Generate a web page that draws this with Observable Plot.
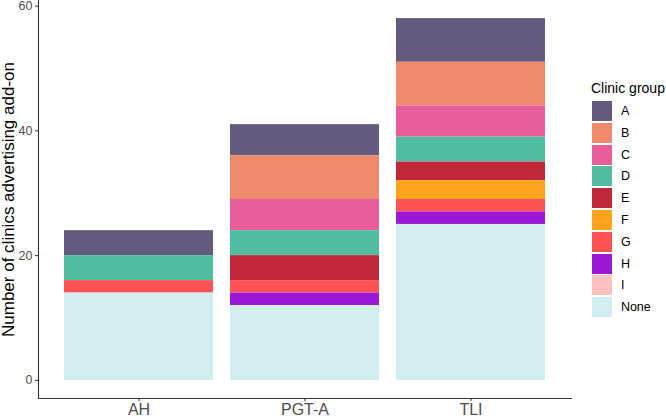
<!DOCTYPE html>
<html><head><meta charset="utf-8">
<script src="https://cdn.jsdelivr.net/npm/d3@7"></script>
<script src="https://cdn.jsdelivr.net/npm/@observablehq/plot@0.6"></script>
<style>
body{margin:0;background:#fff;font-family:"Liberation Sans",Arial,sans-serif;}
#wrap{position:relative;width:666px;height:418px;overflow:hidden;}
#legend{position:absolute;left:591px;top:79px;color:#000;white-space:nowrap;}
#legend .title{font-size:14px;line-height:18px;height:22px;}
#legend .row{display:flex;align-items:flex-start;height:21.8px;margin-left:1px;}
#legend .sw{width:20.4px;height:20px;}
#legend .lab{font-size:12.5px;line-height:20px;margin-left:8.5px;}
</style></head><body>
<div id="wrap"><div id="chart"></div><div id="legend"></div></div>
<script>
const categories = ["AH", "PGT-A", "TLI"];
const groups = ["A", "B", "C", "D", "E", "F", "G", "H", "I", "None"];
const groupColors = ["#645a7d", "#ef896b", "#e85e9a", "#50bca0", "#c02839", "#ffa21c", "#fe5255", "#9b18d6", "#ffc0c2", "#d2eded"];
// counts per category (AH, PGT-A, TLI)
const groupA = [4, 5, 7];
const groupB = [0, 7, 7];
const groupC = [0, 5, 5];
const groupD = [4, 4, 4];
const groupE = [0, 4, 3];
const groupF = [0, 0, 3];
const groupG = [2, 2, 2];
const groupH = [0, 2, 2];
const groupI = [0, 0, 0];
const groupNone = [14, 12, 25];
const yTicks = [0, 20, 40, 60];
const yTitle = "Number of clinics advertising add-on";
const legendTitle = "Clinic group";

const series = [groupA, groupB, groupC, groupD, groupE, groupF, groupG, groupH, groupI, groupNone];
const rows = [];
groups.forEach((g, gi) => categories.forEach((c, ci) => {
  if (series[gi][ci] > 0) rows.push({category: c, group: g, count: series[gi][ci]});
}));

const chart = Plot.plot({
  width: 666, height: 418,
  marginLeft: 38, marginRight: 95, marginTop: 0, marginBottom: 20,
  style: {fontFamily: "'Liberation Sans', Arial, sans-serif", background: "#fff"},
  x: {domain: categories, paddingInner: 0.1, paddingOuter: 0.15, label: null, axis: null},
  y: {domain: [-2.9, 60.9], label: null, axis: null},
  color: {domain: groups, range: groupColors},
  marks: [
    Plot.barY(rows, Plot.stackY({x: "category", y: "count", fill: "group", order: [...groups].reverse()})),
    Plot.frame({anchor: "left", stroke: "#333", strokeWidth: 1.1}),
    Plot.frame({anchor: "bottom", stroke: "#333", strokeWidth: 1.1}),
    Plot.axisY({ticks: yTicks, tickSize: 3, tickPadding: 3, fontSize: 12.5, color: "#4d4d4d", stroke: "#333", label: null}),
    Plot.axisX({tickSize: 3, tickPadding: 2.5, fontSize: 16, color: "#4d4d4d", stroke: "#333", label: null}),
    Plot.text([yTitle], {frameAnchor: "left", textAnchor: "middle", rotate: -90, dx: -30, fontSize: 17, fill: "#000"})
  ]
});
document.getElementById("chart").appendChild(chart);

const leg = document.getElementById("legend");
const t = document.createElement("div"); t.className = "title"; t.textContent = legendTitle; leg.appendChild(t);
groups.forEach((g, i) => {
  const r = document.createElement("div"); r.className = "row";
  const s = document.createElement("div"); s.className = "sw"; s.style.background = groupColors[i];
  const l = document.createElement("div"); l.className = "lab"; l.textContent = g;
  r.appendChild(s); r.appendChild(l); leg.appendChild(r);
});
</script>
</body></html>
